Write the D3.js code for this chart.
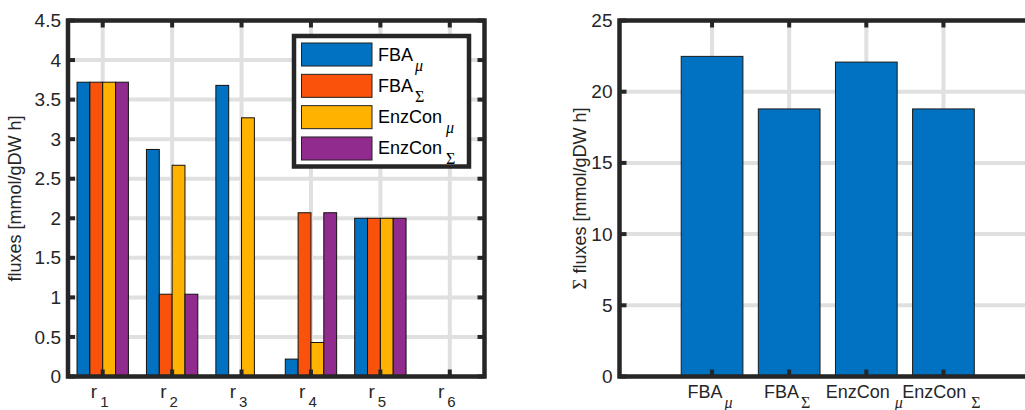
<!DOCTYPE html>
<html>
<head>
<meta charset="utf-8">
<script src="https://cdn.jsdelivr.net/npm/d3@7"></script>
<style>
  body { margin: 0; background: #fff; }
  svg { display: block; font-family: "Liberation Sans", Arial, sans-serif; }
</style>
</head>
<body>
<svg id="chart" width="1025" height="410"></svg>
<script>
// =========================
// DADES
// =========================

const reactions = ["1", "2", "3", "4", "5", "6"];

const seriesNames = ["FBA", "FBA", "EnzCon", "EnzCon"];
const seriesSubs = ["μ", "Σ", "μ", "Σ"];
const seriesColors = ["#0072C1", "#FA520A", "#FFB200", "#922B8E"];

const fbaMu = [3.72, 2.87, 3.68, 0.22, 2.00, 0];
const fbaSigma = [3.72, 1.04, 0, 2.07, 2.00, 0];
const enzMu = [3.72, 2.67, 3.27, 0.43, 2.00, 0];
const enzSigma = [3.72, 1.04, 0, 2.07, 2.00, 0];

const leftTicks = [0, 0.5, 1, 1.5, 2, 2.5, 3, 3.5, 4, 4.5];

const sumValues = [22.48, 18.79, 22.08, 18.79];
const rightTicks = [0, 5, 10, 15, 20, 25];

const AXIS = "#262626";
const GRID = "#e0e0e0";
const SERIF = "Liberation Serif, Times New Roman, serif";

const svg = d3.select("#chart");
svg.append("rect").attr("width", 1025).attr("height", 410).attr("fill", "#fff");

// =========================
// EIXOS COMUNS
// =========================

function drawGrid(g, x, y, xTicks, yTicks) {
  const [x0, x1] = x.range();
  const [y0, y1] = y.range();
  g.selectAll(".vgrid").data(xTicks).enter().append("line")
    .attr("x1", d => x(d)).attr("x2", d => x(d))
    .attr("y1", y0).attr("y2", y1)
    .attr("stroke", GRID).attr("stroke-width", 4);
  g.selectAll(".hgrid").data(yTicks).enter().append("line")
    .attr("x1", x0).attr("x2", x1)
    .attr("y1", d => y(d)).attr("y2", d => y(d))
    .attr("stroke", GRID).attr("stroke-width", 4);
}

function drawBox(g, x, y, xTicks, yTicks) {
  const [x0, x1] = x.range();
  const [y0, y1] = y.range();
  const tl = 7;
  // ticks cap endins
  xTicks.forEach(t => {
    g.append("line").attr("x1", x(t)).attr("x2", x(t)).attr("y1", y0).attr("y2", y0 - tl)
      .attr("stroke", AXIS).attr("stroke-width", 4);
    g.append("line").attr("x1", x(t)).attr("x2", x(t)).attr("y1", y1).attr("y2", y1 + tl)
      .attr("stroke", AXIS).attr("stroke-width", 4);
  });
  yTicks.forEach(t => {
    g.append("line").attr("x1", x0).attr("x2", x0 + tl).attr("y1", y(t)).attr("y2", y(t))
      .attr("stroke", AXIS).attr("stroke-width", 4);
    g.append("line").attr("x1", x1).attr("x2", x1 - tl).attr("y1", y(t)).attr("y2", y(t))
      .attr("stroke", AXIS).attr("stroke-width", 4);
  });
  g.append("rect")
    .attr("x", x0).attr("y", y1)
    .attr("width", x1 - x0).attr("height", y0 - y1)
    .attr("fill", "none").attr("stroke", AXIS).attr("stroke-width", 4.5);
}

function drawYLabels(g, x, y, ticks) {
  const axis = d3.axisLeft(y).tickValues(ticks).tickSize(0).tickPadding(7)
    .tickFormat(d => String(d));
  const ax = g.append("g").attr("transform", `translate(${x.range()[0]},0)`).call(axis);
  ax.select(".domain").remove();
  ax.selectAll("text")
    .style("font-family", "Liberation Sans, Arial, sans-serif")
    .style("font-size", "19px").attr("fill", AXIS);
}

function subLabel(sel, main, sub, subDx, subDy, size, subSize, color) {
  sel.append("tspan").text(main).style("font-size", size + "px");
  sel.append("tspan").text(sub)
    .attr("dx", subDx).attr("dy", subDy)
    .style("font-family", SERIF)
    .style("font-style", sub === "μ" ? "italic" : "normal")
    .style("font-size", subSize + "px");
  sel.attr("fill", color);
}

function drawYTitle(g, xPos, yMid, parts) {
  const t = g.append("text")
    .attr("transform", `translate(${xPos},${yMid}) rotate(-90)`)
    .attr("text-anchor", "middle")
    .attr("fill", AXIS);
  parts.forEach(p => {
    const s = t.append("tspan").text(p.text).style("font-size", "18px");
    if (p.serif) s.style("font-family", SERIF).style("font-size", "19px");
  });
}

// =========================
// PANELL ESQUERRE
// =========================

function drawLeft() {
  const g = svg.append("g");
  const x = d3.scaleLinear().domain([0.5, 6.5]).range([68, 484.5]);
  const y = d3.scaleLinear().domain([0, 4.5]).range([376.5, 20.5]);
  const xTicks = reactions.map((d, i) => i + 1);

  drawGrid(g, x, y, xTicks, leftTicks);

  const series = [fbaMu, fbaSigma, enzMu, enzSigma];
  const bw = 0.185;
  series.forEach((vals, j) => {
    g.selectAll(".bar" + j).data(vals).enter().append("rect")
      .attr("x", (d, i) => x(i + 1 + (j - 1.5) * bw - bw / 2))
      .attr("width", x(bw) - x(0))
      .attr("y", d => y(d))
      .attr("height", d => y(0) - y(d))
      .attr("fill", seriesColors[j])
      .attr("stroke", d => d > 0 ? "#111" : "none")
      .attr("stroke-width", 1);
  });

  drawBox(g, x, y, xTicks, leftTicks);
  drawYLabels(g, x, y, leftTicks);

  reactions.forEach((r, i) => {
    const t = g.append("text")
      .attr("x", x(i + 1) - 3).attr("y", 398)
      .attr("text-anchor", "middle");
    t.append("tspan").text("r").style("font-size", "19px");
    t.append("tspan").text(r).attr("dx", 3).attr("dy", 9).style("font-size", "15px");
    t.attr("fill", AXIS);
  });

  drawYTitle(g, 21, (y.range()[0] + y.range()[1]) / 2, [{ text: "fluxes [mmol/gDW h]" }]);

  // llegenda
  const lg = g.append("g");
  lg.append("rect")
    .attr("x", 294).attr("y", 36).attr("width", 175).attr("height", 130.5)
    .attr("fill", "#fff").attr("stroke", AXIS).attr("stroke-width", 4.5);
  const ly = d3.scaleBand().domain(d3.range(seriesNames.length)).range([43, 160]).paddingInner(0.265);
  seriesNames.forEach((name, j) => {
    lg.append("rect")
      .attr("x", 301.5).attr("y", ly(j))
      .attr("width", 70.5).attr("height", ly.bandwidth())
      .attr("fill", seriesColors[j]).attr("stroke", "#222").attr("stroke-width", 1);
    const t = lg.append("text")
      .attr("x", 378).attr("y", ly(j) + ly.bandwidth() / 2 + 6);
    subLabel(t, name, seriesSubs[j], name === "EnzCon" ? 4 : 2, 10, 18, 16, "#000");
  });
}

// =========================
// PANELL DRET
// =========================

function drawRight() {
  const g = svg.append("g");
  const x = d3.scaleLinear().domain([-0.2, 5.2]).range([619.5, 1036]);
  const y = d3.scaleLinear().domain([0, 25]).range([376.5, 20.5]);
  const xTicks = sumValues.map((d, i) => i + 1);

  drawGrid(g, x, y, xTicks, rightTicks);

  g.selectAll(".sbar").data(sumValues).enter().append("rect")
    .attr("x", (d, i) => x(i + 1 - 0.4))
    .attr("width", x(0.8) - x(0))
    .attr("y", d => y(d))
    .attr("height", d => y(0) - y(d))
    .attr("fill", "#0072C1")
    .attr("stroke", "#1a1a1a").attr("stroke-width", 1);

  drawBox(g, x, y, xTicks, rightTicks);
  drawYLabels(g, x, y, rightTicks);

  seriesNames.forEach((name, j) => {
    const t = g.append("text")
      .attr("x", x(j + 1) - 2).attr("y", 398)
      .attr("text-anchor", "middle");
    subLabel(t, name, seriesSubs[j], name === "EnzCon" ? 5 : 2, 10, 18, 16, AXIS);
  });

  drawYTitle(g, 586, (y.range()[0] + y.range()[1]) / 2,
    [{ text: "Σ", serif: true }, { text: " fluxes [mmol/gDW h]" }]);
}

drawLeft();
drawRight();
</script>
</body>
</html>
